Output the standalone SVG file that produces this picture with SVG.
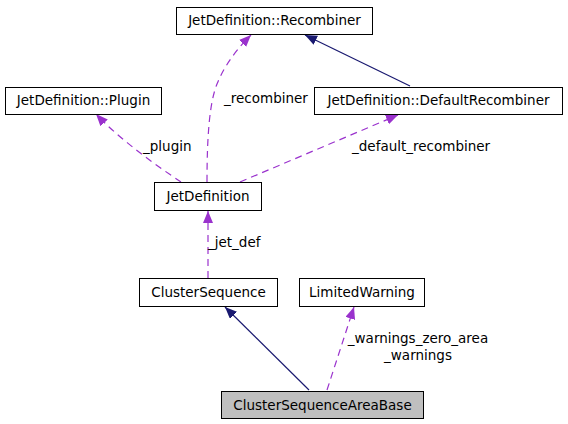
<svg xmlns="http://www.w3.org/2000/svg" width="568" height="424" viewBox="0 0 568 424">
<style>
.box{fill:#fff;stroke:#000;stroke-width:1}
.sel{fill:#bfbfbf;stroke:#000;stroke-width:1}
text{font-family:"DejaVu Sans","Liberation Sans",sans-serif;font-size:13.5px;fill:#000}
.c{text-anchor:middle}
.inh{fill:none;stroke:#191970;stroke-width:1.2}
.use{fill:none;stroke:#9a32cd;stroke-width:1.2;stroke-dasharray:7,5}
</style>
<defs>
<marker id="an" markerUnits="userSpaceOnUse" markerWidth="13" markerHeight="11" refX="12" refY="5" orient="auto"><path d="M0,0 L12,5 L0,10 z" fill="#191970"/></marker>
<marker id="ap" markerUnits="userSpaceOnUse" markerWidth="13" markerHeight="11" refX="12" refY="5" orient="auto"><path d="M0,0 L12,5 L0,10 z" fill="#9a32cd"/></marker>
</defs>
<rect width="568" height="424" fill="#fff"/>
<g id="connectors">
<path class="inh" d="M410,86 L305,35" marker-end="url(#an)"/>
<path class="use" d="M207,182 C207,140 209,104 217,84 C225,64 238,48 251,35" marker-end="url(#ap)"/>
<path class="use" d="M240,182 L398,115" marker-end="url(#ap)"/>
<path class="use" d="M181,182 C160,168 120,140 96,114" marker-end="url(#ap)"/>
<path class="use" d="M208,278 L208,211" marker-end="url(#ap)"/>
<path class="inh" d="M309,390 L225,307" marker-end="url(#an)"/>
<path class="use" d="M327,390 L354,307" marker-end="url(#ap)"/>
<text x="224" y="103">_recombiner</text>
<text x="352" y="151">_default_recombiner</text>
<text x="143" y="151">_plugin</text>
<text x="208" y="247">_jet_def</text>
<text class="c" x="418" y="343">_warnings_zero_area</text>
<text class="c" x="418" y="360">_warnings</text>
</g>
<g id="recombiner"><rect class="box" x="176.5" y="7.5" width="196" height="27"/><text class="c" x="274.5" y="25">JetDefinition::Recombiner</text></g>
<g id="defaultrecombiner"><rect class="box" x="314.5" y="87.5" width="248" height="27"/><text class="c" x="438.5" y="105">JetDefinition::DefaultRecombiner</text></g>
<g id="plugin"><rect class="box" x="5.5" y="87.5" width="156" height="27"/><text class="c" x="83.5" y="105">JetDefinition::Plugin</text></g>
<g id="jetdefinition"><rect class="box" x="154.5" y="182.5" width="107" height="28"/><text class="c" x="208" y="201">JetDefinition</text></g>
<g id="clustersequence"><rect class="box" x="139.5" y="278.5" width="138" height="28"/><text class="c" x="208.5" y="297">ClusterSequence</text></g>
<g id="limitedwarning"><rect class="box" x="299.5" y="278.5" width="125" height="28"/><text class="c" x="362" y="297">LimitedWarning</text></g>
<g id="clustersequenceareabase"><rect class="sel" x="221.5" y="391.5" width="202" height="27"/><text class="c" x="322.5" y="410">ClusterSequenceAreaBase</text></g>
</svg>
